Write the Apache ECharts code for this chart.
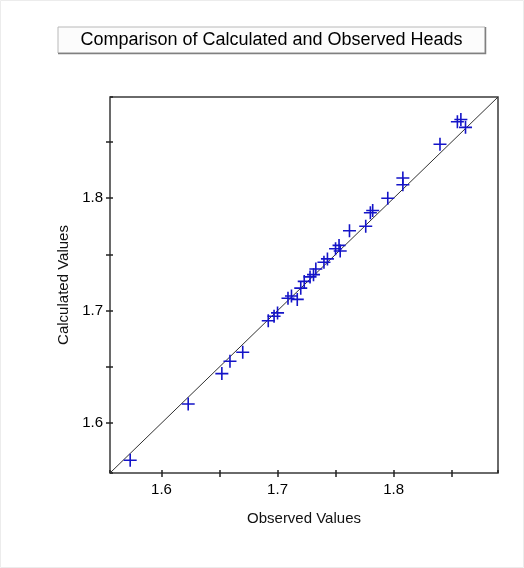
<!DOCTYPE html>
<html>
<head>
<meta charset="utf-8">
<script src="https://cdn.jsdelivr.net/npm/echarts@6/dist/echarts.min.js"></script>
<style>
html,body{margin:0;padding:0;background:#fff;}
#c{width:524px;height:568px;}
</style>
</head>
<body>
<div id="c"></div>
<script>
var titleText = 'Comparison of Calculated and Observed Heads';
var xName = 'Observed Values';
var yName = 'Calculated Values';
var axisMin = 1.5556;
var axisMax = 1.8900;
var observed = [1.573,1.623,1.652,1.659,1.670,1.692,1.697,1.700,1.709,1.712,1.717,1.720,1.723,1.728,1.731,1.733,1.740,1.743,1.750,1.753,1.754,1.762,1.776,1.780,1.782,1.795,1.808,1.808,1.840,1.855,1.858,1.862];
var calculated = [1.567,1.617,1.644,1.655,1.663,1.691,1.695,1.698,1.711,1.713,1.710,1.720,1.726,1.730,1.732,1.737,1.743,1.746,1.755,1.758,1.753,1.771,1.775,1.787,1.789,1.800,1.812,1.818,1.848,1.868,1.870,1.863];

var pts = observed.map(function(v,i){return [v, calculated[i]];});
var diag = [[axisMin, axisMin],[axisMax, axisMax]];

function fmt(v){
  if (v <= axisMin + 1e-6 || v >= axisMax - 1e-6) return '';
  var t = v*10;
  return Math.abs(t - Math.round(t)) < 1e-6 ? v.toFixed(1) : '';
}
var lblStyle = {fontFamily:'Arial, Liberation Sans', fontSize:15, color:'#000', formatter: fmt, showMinLabel:false, showMaxLabel:false};
var nameStyle = {fontFamily:'Liberation Sans Narrow, Arial Narrow, Arial', fontSize:15, color:'#111'};

var chart = echarts.init(document.getElementById('c'), null, {renderer:'canvas'});
var grid = {left:110, top:97, width:388, height:376, show:true, borderColor:'#3a3a3a', borderWidth:1.5, backgroundColor:'#fff'};
chart.setOption({
  animation:false,
  backgroundColor:'#fff',
  graphic:[
    {type:'rect', shape:{x:0.5,y:0.5,width:523,height:567}, style:{fill:'none', stroke:'#ececec', lineWidth:1}, z:-10},
    {type:'rect', shape:{x:58,y:27,width:427,height:26}, style:{fill:'#fcfcfc', stroke:'#b8b8b8', lineWidth:1}},
    {type:'polyline', shape:{points:[[485.5,27],[485.5,53.5],[58,53.5]]}, style:{stroke:'#808080', fill:'none', lineWidth:1.5}},
    {type:'text', x:271.5, y:40.5, style:{text:titleText, font:'18px Arial, Liberation Sans', fill:'#000', align:'center', verticalAlign:'middle'}}
  ],
  grid:[grid],
  xAxis:[
    {type:'value', min:axisMin, max:axisMax, splitNumber:7, position:'bottom',
     name:xName, nameLocation:'middle', nameGap:38, nameTextStyle:nameStyle,
     axisLine:{show:false}, splitLine:{show:false},
     axisTick:{show:true, length:4, inside:false, lineStyle:{color:'#222', width:1.5}},
     axisLabel:Object.assign({margin:9}, lblStyle)},
    {type:'value', min:axisMin, max:axisMax, splitNumber:7, position:'bottom', offset:0,
     axisLine:{show:false}, splitLine:{show:false}, axisLabel:{show:false},
     axisTick:{show:true, length:3, inside:true, lineStyle:{color:'#222', width:1.5}}}
  ],
  yAxis:[
    {type:'value', min:axisMin, max:axisMax, splitNumber:7, position:'left',
     name:yName, nameLocation:'middle', nameGap:39, nameTextStyle:nameStyle,
     axisLine:{show:false}, splitLine:{show:false},
     axisTick:{show:true, length:4, inside:false, lineStyle:{color:'#222', width:1.5}},
     axisLabel:Object.assign({margin:7}, lblStyle)},
    {type:'value', min:axisMin, max:axisMax, splitNumber:7, position:'left', offset:0,
     axisLine:{show:false}, splitLine:{show:false}, axisLabel:{show:false},
     axisTick:{show:true, length:3, inside:true, lineStyle:{color:'#222', width:1.5}}}
  ],
  series:[
    {type:'line', data:diag, symbol:'none', lineStyle:{color:'#303030', width:1}, silent:true, z:2},
    {type:'scatter', data:pts, symbol:'path://M0,6L12,6M6,0L6,12', symbolSize:13,
     itemStyle:{color:'rgba(0,0,0,0)', borderColor:'#1414c8', borderWidth:1.6, opacity:1}, z:3}
  ]
});
</script>
</body>
</html>
